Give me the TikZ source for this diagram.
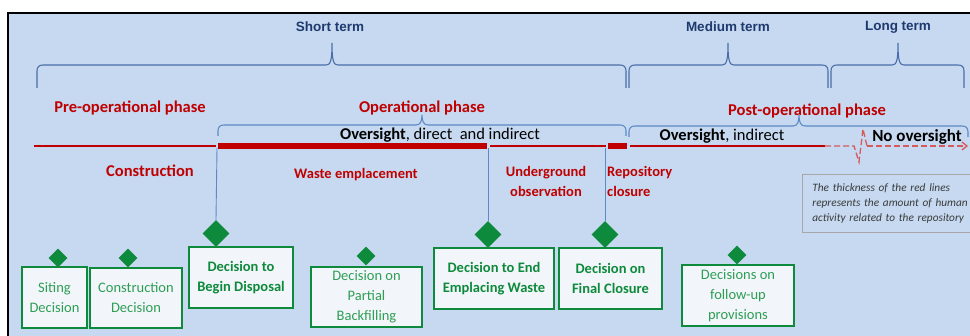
\documentclass[tikz,border=0pt]{standalone}
\usepackage{fontspec}
\setmainfont{Carlito}
\newfontfamily\arialf{Liberation Sans}
\usetikzlibrary{shapes.geometric,arrows.meta}
\definecolor{bg}{HTML}{C6D9F0}
\definecolor{brc}{HTML}{4A6EA9}
\definecolor{brcb}{HTML}{5B8AC6}
\definecolor{navy}{HTML}{1F3A6E}
\definecolor{dred}{HTML}{C00000}
\definecolor{lred}{HTML}{D65A5A}
\definecolor{dgreen}{HTML}{0E8A3C}
\definecolor{lgreen}{HTML}{2E9E55}
\definecolor{boxfill}{HTML}{F2F5F9}
\definecolor{notec}{HTML}{3A3A3A}
\newcommand\mybrace[6]{%
  \draw ({#1},{#4}) -- ({#1},{#3+6}) .. controls ({#1},{#3+2}) and ({#1+2},{#3}) .. ({#1+6},{#3})
   -- ({#5-6},{#3}) .. controls ({#5-1.5},{#3}) and ({#5},{#3-4}) .. ({#5},{#6})
   .. controls ({#5},{#3-4}) and ({#5+1.5},{#3}) .. ({#5+6},{#3})
   -- ({#2-6},{#3}) .. controls ({#2-2},{#3}) and ({#2},{#3+2}) .. ({#2},{#3+6}) -- ({#2},{#4});}
\tikzset{
  term/.style={font=\arialf\bfseries\fontsize{13.5}{16}\selectfont, text=navy, inner sep=0pt},
  phase/.style={font=\bfseries\fontsize{16.5}{20}\selectfont, text=dred, inner sep=0pt},
  stage/.style={font=\bfseries\fontsize{14.5}{20}\selectfont, text=dred, inner sep=0pt, align=center},
  oversight/.style={font=\fontsize{16.5}{18}\selectfont, text=black, inner sep=0pt},
  decbox/.style={draw=dgreen, line width=2.5pt, fill=boxfill, align=center, inner sep=0pt,
     font=\fontsize{14.5}{20}\selectfont, text=lgreen},
  decboxb/.style={decbox, font=\bfseries\fontsize{14.5}{20}\selectfont, text=dgreen},
  smalldia/.style={diamond, fill=dgreen, minimum size=19pt, inner sep=0pt},
  bigdia/.style={diamond, fill=dgreen, minimum size=27pt, inner sep=0pt},
  conn/.style={draw=brcb, line width=0.9pt},
}
\begin{document}
\begin{tikzpicture}[x=1pt,y=-1pt]
\useasboundingbox (0,0) rectangle (970,336);
\fill[white] (0,0) rectangle (970,336);
\fill[bg] (8,13) rectangle (970,336);
\draw[black, line width=2.6pt] (8,337) -- (8,13) -- (971,13);

% time-scale labels and braces
\node[term] (short) at (330,27) {Short term};
\node[term] (medium) at (728,27) {Medium term};
\node[term] (long) at (898,27) {Long term};
\begin{scope}[draw=brc, line width=1.1pt]
\mybrace{37}{626}{65}{88}{332}{43}
\mybrace{629}{828}{65}{88}{728}{43}
\mybrace{831}{964}{65}{88}{898}{43}
\end{scope}

% phases
\node[phase] (pre) at (130,108) {Pre-operational phase};
\node[phase] (op) at (422,108) {Operational phase};
\node[phase] (post) at (807,111) {Post-operational phase};

% oversight braces
\begin{scope}[draw=brcb, line width=1.1pt]
\mybrace{218}{626}{125}{136}{422}{115}
\mybrace{629}{968}{126}{137}{799}{115}
\end{scope}
\node[oversight] (ov1) at (440,135) {\textbf{Oversight}, direct\ \ and\ indirect};
\node[oversight] (ov2) at (722,136) {\textbf{Oversight}, indirect};
\node[oversight,font=\bfseries\fontsize{17}{18}\selectfont] (ov3) at (917,137) {No oversight};

% red activity line
\draw[dred, line width=2pt] (34,146) -- (216,146);
\draw[dred, line width=5.5pt] (218,146) -- (487,146);
\draw[dred, line width=2pt] (490,146) -- (606,146);
\draw[dred, line width=5.5pt] (608,146) -- (627,146);
\draw[dred, line width=1.6pt] (630,146) -- (825,146);
\draw[lred, line width=1.3pt, dash pattern=on 6pt off 3pt] (825,146) -- (854,146) -- (859,162) -- (863,129) -- (867,146);
\draw[lred, line width=1.3pt, dash pattern=on 6pt off 3pt, -{Straight Barb[length=5pt,width=8pt]}] (867,146) -- (968,146);

% stage labels
\node[stage, font=\bfseries\fontsize{16.5}{20}\selectfont] (constr) at (150,171) {Construction};
\node[stage] (waste) at (356,175) {Waste emplacement};
\node[stage] (under) at (546,181) {Underground\\observation};
\node[stage, align=left, anchor=west] (repo) at (607,181) {Repository\\closure};

% note
\node[draw=gray!70, line width=0.8pt, fill=bg, anchor=north west, minimum width=175pt, minimum height=58pt,
      text width=165pt, inner sep=0pt, align=left, font=\itshape\fontsize{11.3}{15.2}\selectfont, text=notec] (note) at (802,174)
  {\hspace*{5pt}The thickness of the red lines\\\hspace*{5pt}represents the amount of human\\\hspace*{5pt}activity related to the repository};

% decision boxes
\node[decbox, minimum width=65pt, minimum height=61pt] (b1) at (54.5,297.5) {Siting\\Decision};
\node[decbox, minimum width=92pt, minimum height=60pt] (b2) at (136,298) {Construction\\Decision};
\node[decboxb, minimum width=104pt, minimum height=61pt] (b3) at (241,277.5) {Decision to\\Begin Disposal};
\node[decbox, minimum width=111pt, minimum height=60pt] (b4) at (366.5,297) {Decision on\\Partial\\Backfilling};
\node[decboxb, minimum width=120pt, minimum height=61pt] (b5) at (494,278.5) {Decision to End\\Emplacing Waste};
\node[decboxb, minimum width=103pt, minimum height=61pt] (b6) at (610.5,278.5) {Decision on\\Final Closure};
\node[decbox, minimum width=112pt, minimum height=61pt] (b7) at (738,295.5) {Decisions on\\follow-up\\provisions};

% diamonds
\node[smalldia] (d1) at (58,258) {};
\node[smalldia] (d2) at (128,258) {};
\node[bigdia] (d3) at (216,233.5) {};
\node[smalldia] (d4) at (366,256) {};
\node[bigdia] (d5) at (488,234.5) {};
\node[bigdia] (d6) at (605,234.5) {};
\node[smalldia] (d7) at (737,255) {};

% connectors
\coordinate (c3) at (217,148);
\coordinate (c5) at (488,148);
\coordinate (c6) at (605,148);
\draw[conn] (c3) -- (d3.north);
\draw[conn] (c5) -- (d5.north);
\draw[conn] (c6) -- (d6.north);
\end{tikzpicture}
\end{document}
